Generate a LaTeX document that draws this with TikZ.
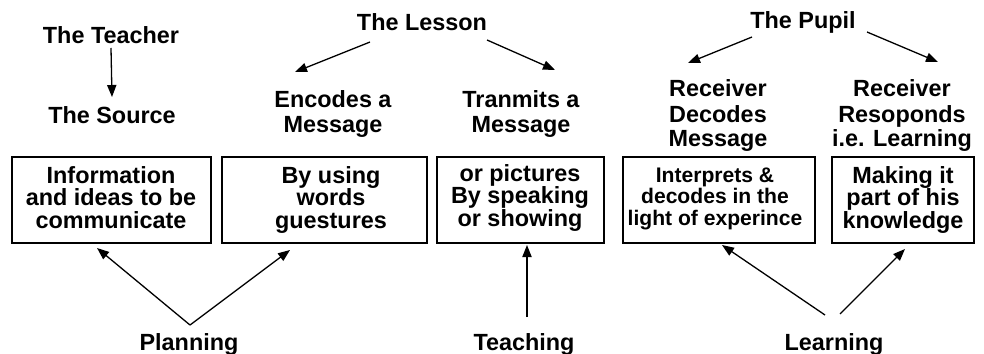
\documentclass[tikz,border=0pt]{standalone}
\usepackage{fontspec}
\setmainfont{Liberation Sans}
\usetikzlibrary{arrows.meta}
\begin{document}
\begin{tikzpicture}[x=0.5pt,y=-0.5pt,
  every node/.style={inner sep=0pt,outer sep=0pt},
  head/.style={font=\bfseries\fontsize{11.7}{12.5}\selectfont,align=center,anchor=base},
  btext/.style={font=\bfseries\fontsize{11.7}{11.25}\selectfont,align=center,anchor=base},
  stext/.style={font=\bfseries\fontsize{10.55}{10.75}\selectfont,align=center,anchor=base},
  frame/.style={draw,line width=0.65pt,minimum height=43pt},
  arr/.style={-{Triangle[length=6pt,width=4.6pt]},line width=0.65pt}]
\useasboundingbox (0,0) rectangle (984,353);

% column headings (multi-line nodes sit on the baseline of their last line)
\node[head] (teacher)  at (111,44)  {The Teacher};
\node[head] (source)   at (112,124) {The Source};
\node[head] (lesson)   at (422,31)  {The Lesson};
\node[head] (encodes)  at (333,133) {Encodes a\\Message};
\node[head] (tranmits) at (521,133) {Tranmits a\\Message};
\node[head] (pupil)    at (803,29)  {The Pupil};
\node[head] (recdec)   at (718,147) {Receiver\\Decodes\\Message};
\node[head] (recresp)  at (902,147) {Receiver\\Resoponds\\i.e. Learning};

% boxes
\node[frame,minimum width=99.5pt] (box1) at (111.5,200) {};
\node[frame,minimum width=102.5pt] (box2) at (324.5,200) {};
\node[frame,minimum width=83.5pt] (box3) at (520.5,200) {};
\node[frame,minimum width=96pt] (box4) at (719,200) {};
\node[frame,minimum width=71pt] (box5) at (903,200) {};

\node[btext] (txt1) at (111,228) {Information\\and ideas to be\\communicate};
\node[btext] (txt2) at (331,228) {By using\\words\\guestures};
\node[btext] (txt3) at (520,226) {or pictures\\By speaking\\or showing};
\node[stext] (txt4) at (715,225) {Interprets \&\\decodes in the\\light of experince};
\node[btext] (txt5) at (903,228) {Making it\\part of his\\knowledge};

% activities
\node[head] (planning) at (189,350) {Planning};
\node[head] (teaching) at (524,350) {Teaching};
\node[head] (learning) at (834,350) {Learning};

% arrows
\draw[arr] ([shift={(0,4)}]teacher.base) -- ([shift={(0,-27)}]source.base);
\draw[arr] ([shift={(-52,11)}]lesson.base) -- ([shift={(-38,-61)}]encodes.base);
\draw[arr] ([shift={(65,9)}]lesson.base) -- ([shift={(34,-63)}]tranmits.base);
\draw[arr] ([shift={(-51,8)}]pupil.base) -- ([shift={(-30,-84)}]recdec.base);
\draw[arr] ([shift={(64,3)}]pupil.base) -- ([shift={(36,-85)}]recresp.base);
\draw[arr] ([shift={(1,-25)}]planning.base) -- ([shift={(-14.5,5)}]box1.south);
\draw[arr] ([shift={(1,-25)}]planning.base) -- ([shift={(-34.5,7)}]box2.south);
\draw[arr] ([shift={(3,-33)}]teaching.base) -- ([shift={(6.5,2)}]box3.south);
\draw[arr] ([shift={(-9,-35)}]learning.base) -- ([shift={(3,2)}]box4.south);
\draw[arr] ([shift={(6,-36)}]learning.base) -- ([shift={(2,6)}]box5.south);
\end{tikzpicture}
\end{document}
